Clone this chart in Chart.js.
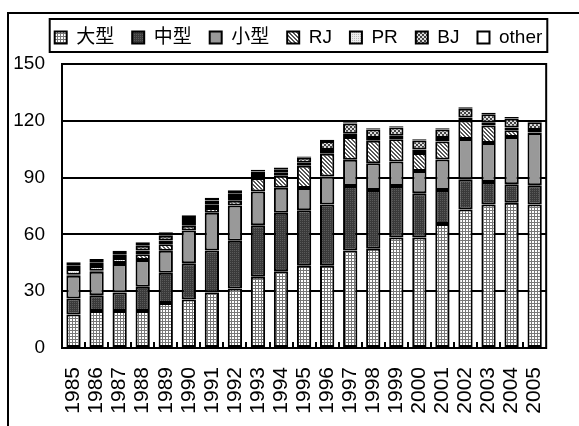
<!DOCTYPE html>
<html>
<head>
<meta charset="utf-8">
<script src="https://cdn.jsdelivr.net/npm/chart.js@4.4.0/dist/chart.umd.min.js"></script>
<style>
html, body { margin: 0; padding: 0; background: #fff; }
#wrap { width: 579px; height: 426px; }
</style>
</head>
<body>
<div id="wrap"><canvas id="chart" width="579" height="426"></canvas></div>
<script>
const years = ['1985','1986','1987','1988','1989','1990','1991','1992','1993','1994','1995',
               '1996','1997','1998','1999','2000','2001','2002','2003','2004','2005'];
const ogata   = [17.7,19.5,19.5,19.5,23.8,25.6,29.3,31.4,37.6,40.6,43.5,43.5,51.5,52.4,58.4,58.4,65.5,73.1,75.8,76.7,75.8];
const chugata = [8.4,8.4,9.8,12.8,15.9,19.1,22.2,25.2,27.2,30.8,29.3,32.3,34.1,31.0,27.2,23.3,17.9,16.0,11.9,9.8,10.1];
const kogata  = [12.1,12.4,15.1,14.2,11.6,17.4,19.9,18.7,17.8,13.3,11.7,14.8,13.8,14.2,12.9,11.8,16.2,21.3,20.6,25.0,27.6];
const rj      = [0.5,0.5,0.5,3,3.5,2.5,2.5,2.5,7,6.3,11.8,12,12,11.8,11.8,9.5,9.5,9.8,9.2,3.5,0.3];
const pr      = [3,2.5,2.6,2,2,2,2,2,1.8,1.6,1.6,2,1.8,1.5,1.8,1.8,1.8,1.6,1.5,1.5,1.3];
const bj      = [2,2,2,2.5,2.5,2,2,2,1.8,1.8,2.6,4.7,5.4,4.5,4.3,4.8,4.5,4.6,4.5,4.7,4.2];
const other   = [1.6,1.7,1.8,1.9,1.8,1.5,1.5,1.5,0.9,1.0,0.7,0.7,0.7,0.7,0.7,0.7,0.7,0.7,0.7,0.8,0.5];
const yTicks  = [0, 30, 60, 90, 120, 150];

const FONT = '"Liberation Sans", "Noto Sans CJK JP", Arial, sans-serif';

function makePattern(size, draw) {
    const c = document.createElement('canvas');
    c.width = size; c.height = size;
    const g = c.getContext('2d');
    draw(g, size);
    return g.createPattern(c, 'repeat');
}

const patGrid = makePattern(3, (g) => {
    g.fillStyle = '#fff'; g.fillRect(0, 0, 3, 3);
    g.fillStyle = '#777'; g.fillRect(0, 0, 3, 1); g.fillRect(0, 0, 1, 3);
});
const patDark = makePattern(2, (g) => {
    g.fillStyle = '#3a3a3a'; g.fillRect(0, 0, 2, 2);
    g.fillStyle = '#5a5a5a'; g.fillRect(0, 0, 1, 1);
});
const patDiag = makePattern(4, (g) => {
    g.fillStyle = '#fff'; g.fillRect(0, 0, 4, 4);
    g.fillStyle = '#555';
    for (let i = 0; i < 4; i++) { g.fillRect(i, i, 1, 1); g.fillRect((i + 1) % 4, i, 1, 1); }
});
const patLight = makePattern(2, (g) => {
    g.fillStyle = '#eee'; g.fillRect(0, 0, 2, 2);
    g.fillStyle = '#bbb'; g.fillRect(0, 0, 1, 1);
});
const patCheck = makePattern(4, (g) => {
    g.fillStyle = '#ddd'; g.fillRect(0, 0, 4, 4);
    g.fillStyle = '#444'; g.fillRect(0, 0, 2, 2); g.fillRect(2, 2, 2, 2);
});

function ds(label, data, fill) {
    return {
        label: label,
        data: data,
        backgroundColor: fill,
        borderColor: '#000',
        borderWidth: 2,
        borderSkipped: false
    };
}

// move the legend a bit right and up, to sit where it is in the picture
const LEGEND_DX = 8;
const LEGEND_DY = -7;

const framePlugin = {
    id: 'frame',
    afterLayout(chart) {
        const lg = chart.legend;
        if (!lg) return;
        lg.left += LEGEND_DX;
        lg.right += LEGEND_DX;
        lg.top += LEGEND_DY;
        lg.bottom += LEGEND_DY;
        (lg.legendHitBoxes || []).forEach(h => { h.left += LEGEND_DX; h.top += LEGEND_DY; });
    },
    beforeDraw(chart) {
        const ctx = chart.ctx;
        ctx.save();
        ctx.strokeStyle = '#000';
        ctx.lineWidth = 2;
        ctx.beginPath();
        ctx.moveTo(8, 426);
        ctx.lineTo(8, 13);
        ctx.lineTo(579, 13);
        ctx.stroke();
        ctx.restore();
    },
    afterDatasetsDraw(chart) {
        const ctx = chart.ctx;
        const a = chart.chartArea;
        const n = chart.data.labels.length;
        const cw = (a.right - a.left) / n;
        ctx.save();
        ctx.strokeStyle = '#000';
        ctx.lineWidth = 2;
        ctx.beginPath();
        ctx.moveTo(a.right, a.top - 1);
        ctx.lineTo(a.right, a.bottom + 1);
        for (let k = 1; k < n; k++) {
            const x = Math.round(a.left + k * cw);
            ctx.moveTo(x, a.bottom);
            ctx.lineTo(x, a.bottom - 6);
        }
        ctx.stroke();
        ctx.restore();
    },
    afterDraw(chart) {
        const boxes = chart.legend && chart.legend.legendHitBoxes;
        if (!boxes || !boxes.length) return;
        let l = Infinity, r = -Infinity, t = Infinity, b = -Infinity;
        boxes.forEach(h => {
            l = Math.min(l, h.left); r = Math.max(r, h.left + h.width);
            t = Math.min(t, h.top); b = Math.max(b, h.top + h.height);
        });
        const ctx = chart.ctx;
        ctx.save();
        ctx.strokeStyle = '#000';
        ctx.lineWidth = 2;
        ctx.strokeRect(l - 5, t - 2, r - l + 10, b - t + 14);
        ctx.restore();
    }
};

new Chart(document.getElementById('chart').getContext('2d'), {
    type: 'bar',
    data: {
        labels: years,
        datasets: [
            ds('大型', ogata, patGrid),
            ds('中型', chugata, patDark),
            ds('小型', kogata, '#999'),
            ds('RJ', rj, patDiag),
            ds('PR', pr, patLight),
            ds('BJ', bj, patCheck),
            ds('other', other, '#fff')
        ]
    },
    options: {
        responsive: false,
        animation: false,
        layout: { padding: { left: 8, right: 6, top: 17, bottom: 0 } },
        datasets: { bar: { barPercentage: 0.62, categoryPercentage: 1 } },
        plugins: {
            legend: {
                display: true,
                position: 'top',
                labels: {
                    color: '#000',
                    font: { family: FONT, size: 19 },
                    boxWidth: 12,
                    boxHeight: 12,
                    padding: 18
                }
            },
            tooltip: { enabled: false }
        },
        scales: {
            x: {
                stacked: true,
                grid: { display: false, drawTicks: false },
                border: { display: true, color: '#000', width: 2 },
                ticks: {
                    color: '#000',
                    font: { family: FONT, size: 21 },
                    minRotation: 90,
                    maxRotation: 90,
                    padding: 19,
                    autoSkip: false
                },
                afterFit: (s) => { s.height = 78; }
            },
            y: {
                stacked: true,
                min: 0,
                max: 150,
                afterBuildTicks: (s) => { s.ticks = yTicks.map(v => ({ value: v })); },
                grid: { color: '#000', lineWidth: 2, drawTicks: false },
                border: { display: true, color: '#000', width: 2 },
                ticks: {
                    color: '#000',
                    font: { family: FONT, size: 19 },
                    padding: 17
                },
                afterFit: (s) => { s.width = 54; }
            }
        }
    },
    plugins: [framePlugin]
});
</script>
</body>
</html>
